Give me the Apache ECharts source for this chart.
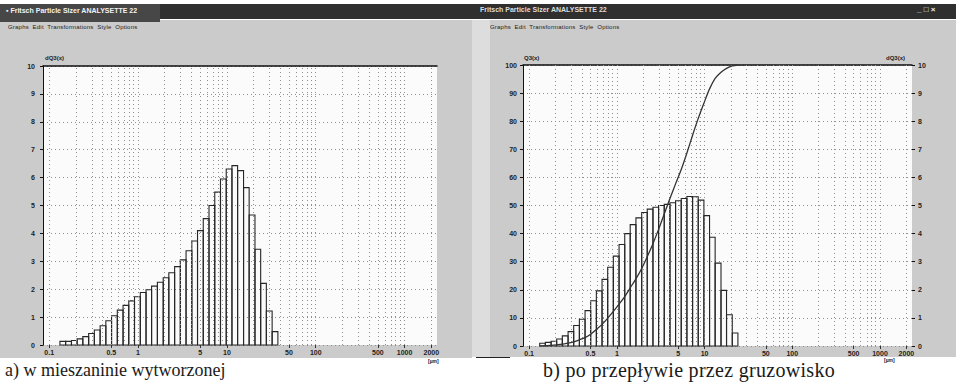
<!DOCTYPE html>
<html>
<head>
    <meta charset="utf-8" />
    <script src="https://cdn.jsdelivr.net/npm/echarts@6/dist/echarts.min.js"></script>
    <style>
        body { margin: 0; background: #fff; }
        #page { position: relative; width: 956px; height: 392px; overflow: hidden; font-family: "Liberation Sans", Arial, sans-serif; }
        .box { position: absolute; }
        .txt { position: absolute; white-space: nowrap; }
        .menu { font-size: 6px; color: #222; letter-spacing: 0.2px; }
        .ttl { font-size: 7px; color: #f2f2f2; font-weight: bold; }
        .ax { font-size: 7px; font-weight: bold; color: #222; }
        .cap { font-family: "Liberation Serif", "DejaVu Serif", serif; color: #1a1a1a; }
        #chart { position: absolute; left: 0; top: 0; width: 956px; height: 392px; }
    </style>
</head>
<body>
<div id="page">
    <!-- window frames -->
    <div class="box" style="left:0;top:20px;width:472px;height:338px;background:#cbcbcb"></div>
    <div class="box" style="left:472px;top:20px;width:18px;height:337px;background:#dddddd"></div>
    <div class="box" style="left:490px;top:20px;width:466px;height:337px;background:#cbcbcb"></div>
    <div class="box" style="left:0;top:4px;width:956px;height:15px;background:#2f2f2f"></div>
    <div class="box" style="left:0;top:4px;width:160px;height:18px;background:#474747"></div>
    <div class="box" style="left:476px;top:357px;width:34px;height:1px;background:#222"></div>
    <div class="txt ttl" style="left:6px;top:7px">&#9642; Fritsch Particle Sizer ANALYSETTE 22</div>
    <div class="txt ttl" style="left:480px;top:6px;color:#ddd">Fritsch Particle Sizer ANALYSETTE 22</div>
    <div class="txt ttl" style="left:917px;top:5px;font-size:8px">_ &#9633; &#215;</div>
    <div class="txt menu" style="left:8px;top:24px">Graphs&nbsp; Edit&nbsp; Transformations&nbsp; Style&nbsp; Options</div>
    <div class="txt menu" style="left:490px;top:24px">Graphs&nbsp; Edit&nbsp; Transformations&nbsp; Style&nbsp; Options</div>
    <!-- axis names -->
    <div class="txt ax" style="left:45px;top:55px;font-size:6px">dQ3(x)</div>
    <div class="txt ax" style="left:524px;top:55px;font-size:6px">Q3(x)</div>
    <div class="txt ax" style="left:886px;top:55px;font-size:6px">dQ3(x)</div>
    <div class="txt ax" style="left:428px;top:358px;font-size:5px">[&micro;m]</div>
    <div class="txt ax" style="left:884px;top:357px;font-size:5px">[&micro;m]</div>
    <!-- captions -->
    <div class="txt cap" style="left:5px;top:360px;font-size:18px">a) w mieszaninie wytworzonej</div>
    <div class="txt cap" style="left:543px;top:359px;font-size:20px;letter-spacing:0.3px">b) po przepływie przez gruzowisko</div>
    <div id="chart"></div>
</div>
<script type="text/javascript">
    // size classes of the sizer [um], edges of the bars
    var classEdges = [0.132, 0.153, 0.178, 0.206, 0.239, 0.278, 0.322, 0.374, 0.434, 0.503,
        0.584, 0.678, 0.786, 0.912, 1.06, 1.23, 1.42, 1.65, 1.92, 2.22,
        2.58, 2.99, 3.47, 4.03, 4.67, 5.42, 6.29, 7.30, 8.47, 9.83,
        11.4, 13.2, 15.4, 17.8, 20.7, 24.0, 27.8, 32.3, 37.5];

    // a) dQ3 [%] per class
    var dq3Mix = [0.13, 0.13, 0.16, 0.22, 0.30, 0.41, 0.54, 0.69, 0.87, 1.05,
        1.25, 1.42, 1.58, 1.73, 1.88, 1.98, 2.11, 2.25, 2.41, 2.59,
        2.81, 3.05, 3.38, 3.73, 4.10, 4.53, 5.00, 5.48, 5.95, 6.31,
        6.43, 6.25, 5.64, 4.66, 3.43, 2.21, 1.22, 0.48];

    // b) dQ3 [%] per class
    var dq3Flow = [0.10, 0.13, 0.17, 0.25, 0.36, 0.51, 0.73, 0.95, 1.26, 1.61,
        1.96, 2.37, 2.80, 3.20, 3.61, 4.00, 4.32, 4.56, 4.75, 4.87,
        4.94, 5.00, 5.04, 5.10, 5.17, 5.25, 5.32, 5.31, 5.19, 4.64,
        3.87, 2.95, 1.98, 1.11, 0.46];

    // b) Q3 [%] at the class edges
    var q3Flow = [0, 0.1, 0.2, 0.4, 0.7, 1.0, 1.5, 2.2, 3.0, 4.2,
        5.9, 7.7, 9.9, 12.3, 14.9, 17.6, 20.7, 23.9, 27.6, 31.8,
        36.4, 41.5, 47.0, 52.5, 57.7, 62.8, 68.7, 75.0, 81.0, 86.4,
        91.5, 95.2, 97.4, 98.8, 99.7, 100];

    var xTickLabels = [0.1, 0.5, 1, 5, 10, 50, 100, 500, 1000, 2000];
    var xGridValues = [0.1, 0.2, 0.3, 0.4, 0.5, 0.6, 0.7, 0.8, 0.9,
        1, 2, 3, 4, 5, 6, 7, 8, 9,
        10, 20, 30, 40, 50, 60, 70, 80, 90,
        100, 200, 300, 400, 500, 600, 700, 800, 900,
        1000, 2000];

    var logMin = -1.07, logMax = 3.365;
    var dotted = { type: [1, 3], color: '#8f8f8f', width: 1 };

    function lg(v) { return Math.log10(v); }

    function fmtX(v) {
        for (var i = 0; i < xTickLabels.length; i++) {
            if (Math.abs(lg(xTickLabels[i]) - v) < 1e-6) return String(xTickLabels[i]);
        }
        return '';
    }

    function bottomAxis(g) {
        return {
            type: 'value', gridIndex: g, position: 'bottom', min: logMin, max: logMax,
            axisLine: { show: false, onZero: false },
            axisTick: { show: true, customValues: xTickLabels.map(lg), length: 3, lineStyle: { color: '#333' } },
            axisLabel: { customValues: xTickLabels.map(lg), formatter: fmtX, fontSize: 7, fontWeight: 'bold', color: '#222', margin: 4 },
            splitLine: { show: false }
        };
    }

    function topAxis(g) {
        return {
            type: 'value', gridIndex: g, position: 'top', min: logMin, max: logMax,
            axisLine: { show: true, onZero: false, lineStyle: { color: '#111', width: 1.5 } },
            axisTick: { show: false }, axisLabel: { show: false }, splitLine: { show: false }
        };
    }

    function classBars(vals) {
        var out = [];
        for (var i = 0; i < vals.length; i++) {
            out.push([lg(classEdges[i]), lg(classEdges[i + 1]), vals[i]]);
        }
        return out;
    }

    function barItem(params, api) {
        var p0 = api.coord([api.value(0), 0]);
        var p1 = api.coord([api.value(1), api.value(2)]);
        return {
            type: 'rect',
            shape: { x: p0[0], y: p1[1], width: p1[0] - p0[0], height: p0[1] - p1[1] },
            style: { fill: 'rgba(0,0,0,0)', stroke: '#262626', lineWidth: 1.1 }
        };
    }

    function gridMarks() {
        return {
            silent: true, symbol: ['none', 'none'], label: { show: false },
            lineStyle: dotted,
            data: xGridValues.map(function (v) { return { xAxis: lg(v) }; })
        };
    }

    var q3Points = [];
    for (var k = 0; k < q3Flow.length; k++) {
        q3Points.push([lg(classEdges[k]), q3Flow[k]]);
    }

    var chart = echarts.init(document.getElementById('chart'), null, { renderer: 'svg' });
    var option = {
        animation: false,
        backgroundColor: 'transparent',
        grid: [
            { left: 43, top: 66, width: 394, height: 279, show: true, backgroundColor: '#fbfbfb', borderWidth: 0 },
            { left: 523, top: 65, width: 389, height: 281, show: true, backgroundColor: '#fbfbfb', borderWidth: 0 }
        ],
        xAxis: [bottomAxis(0), topAxis(0), bottomAxis(1), topAxis(1)],
        yAxis: [
            {
                type: 'value', gridIndex: 0, min: 0, max: 10, interval: 1,
                axisLine: { show: true, onZero: false, lineStyle: { color: '#111' } },
                axisTick: { show: true, length: 3, lineStyle: { color: '#111' } },
                axisLabel: { fontSize: 7, fontWeight: 'bold', color: '#222', margin: 8 },
                splitLine: { show: true, lineStyle: dotted }
            },
            {
                type: 'value', gridIndex: 1, min: 0, max: 100, interval: 10, position: 'left',
                axisLine: { show: true, onZero: false, lineStyle: { color: '#111' } },
                axisTick: { show: true, length: 3, lineStyle: { color: '#111' } },
                axisLabel: { fontSize: 7, fontWeight: 'bold', color: '#222', margin: 6 },
                splitLine: { show: true, lineStyle: dotted }
            },
            {
                type: 'value', gridIndex: 1, min: 0, max: 10, interval: 1, position: 'right',
                axisLine: { show: false, onZero: false },
                axisTick: { show: true, length: 3, lineStyle: { color: '#111' } },
                axisLabel: { fontSize: 7, fontWeight: 'bold', color: '#222', margin: 6 },
                splitLine: { show: false }
            }
        ],
        series: [
            {
                name: 'dQ3 a', type: 'custom', xAxisIndex: 0, yAxisIndex: 0,
                renderItem: barItem, encode: { x: [0, 1], y: 2 },
                data: classBars(dq3Mix), markLine: gridMarks(), z: 3
            },
            {
                name: 'dQ3 b', type: 'custom', xAxisIndex: 2, yAxisIndex: 2,
                renderItem: barItem, encode: { x: [0, 1], y: 2 },
                data: classBars(dq3Flow), markLine: gridMarks(), z: 3
            },
            {
                name: 'Q3 b', type: 'line', xAxisIndex: 2, yAxisIndex: 1,
                data: q3Points, showSymbol: false, smooth: 0.3,
                lineStyle: { color: '#333', width: 1.3 }, z: 5
            }
        ]
    };
    chart.setOption(option);
</script>
</body>
</html>
